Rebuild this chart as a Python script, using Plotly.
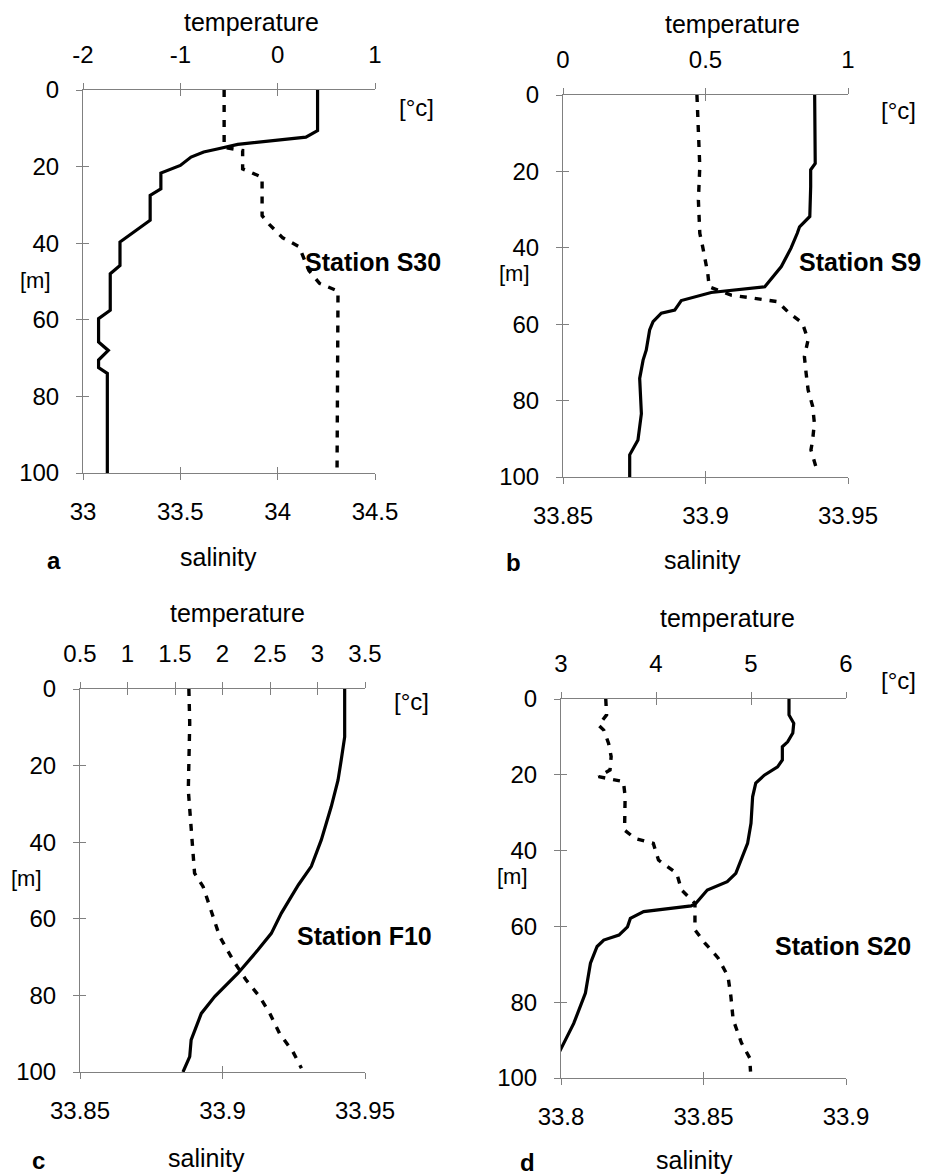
import plotly.graph_objects as go

W, H = 926, 1176

# ---------------- data (depth in m, temperature in °C, salinity) ----------------
a_temp_depth = [0, 10.6, 12.3, 13.0, 14.2, 15.4, 16.2, 17.5, 19.7, 21.7, 25.8, 27.5, 34.0, 39.7, 45.8, 48.0,
                57.5, 59.7, 65.8, 68.0, 70.5, 72.5, 74.0, 100]
a_temp = [0.41, 0.41, 0.29, 0.04, -0.41, -0.62, -0.76, -0.89, -1.0, -1.2, -1.2, -1.31, -1.31, -1.62, -1.62, -1.72,
          -1.72, -1.84, -1.84, -1.74, -1.84, -1.84, -1.75, -1.75]
a_sal_depth = [0, 15, 15.8, 20.6, 21.5, 22.8, 32.8, 35.1, 38.6, 40.9, 47.1, 50.5, 52.5, 100]
a_sal = [33.725, 33.725, 33.82, 33.82, 33.862, 33.92, 33.92, 33.957, 34.026, 34.11, 34.16, 34.215, 34.31, 34.305]

b_temp_depth = [0, 10, 17.9, 19.6, 24, 31.8, 34.5, 36.2, 40.1, 44.9, 50.2, 51.7, 53.8, 56.3, 57.1, 59.3, 61.5,
                66.8, 69.4, 74.2, 83.4, 90.3, 94.2, 100]
b_temp = [0.883, 0.883, 0.885, 0.869, 0.869, 0.866, 0.83, 0.822, 0.80, 0.766, 0.708, 0.52, 0.415, 0.392, 0.345,
          0.316, 0.304, 0.292, 0.281, 0.269, 0.275, 0.263, 0.234, 0.234]
b_sal_depth = [0, 10, 18.8, 27.5, 36.2, 39.7, 46.7, 50.2, 52.4, 53.2, 54.1, 57.1, 59.7, 64.1, 68.5, 72.8, 77.2,
               81.5, 85.9, 90.3, 92.9, 98.2]
b_sal = [33.897, 33.8975, 33.898, 33.8975, 33.898, 33.899, 33.9008, 33.9013, 33.909, 33.917, 33.9253, 33.9294,
         33.934, 33.936, 33.9347, 33.9353, 33.936, 33.9376, 33.9382, 33.9376, 33.937, 33.9391]

c_temp_depth = [0, 12.5, 18.5, 23.8, 30.7, 39.4, 46.3, 51.1, 54.2, 58.5, 63.8, 68.1, 74.2, 80.3, 84.7, 91.6, 96, 100]
c_temp = [3.286, 3.286, 3.25, 3.216, 3.145, 3.04, 2.935, 2.80, 2.724, 2.62, 2.514, 2.374, 2.163, 1.918, 1.777,
          1.67, 1.655, 1.584]
c_sal_depth = [0, 8.9, 26.4, 35.1, 42, 48.1, 51.6, 56.8, 64.6, 70.8, 76, 80.3, 84.7, 89.9, 94.7, 99]
c_sal = [33.8882, 33.8885, 33.888, 33.889, 33.8896, 33.8902, 33.8932, 33.8955, 33.899, 33.9037, 33.9083, 33.913,
         33.9166, 33.92, 33.9247, 33.9277]

d_temp_depth = [0, 4.2, 6.4, 9, 11.3, 12.6, 16.1, 17.9, 20.1, 22.2, 25.8, 32.8, 38.1, 41.6, 46, 48.2, 50.4, 53.9,
                54.6, 56.1, 57.9, 60.1, 62.3, 63.6, 65.3, 69.7, 77.6, 85.6, 97]
d_temp = [5.40, 5.40, 5.45, 5.44, 5.386, 5.33, 5.33, 5.28, 5.14, 5.05, 5.017, 5.0, 4.964, 4.91, 4.84, 4.75, 4.54,
          4.42, 4.37, 3.87, 3.73, 3.70, 3.61, 3.45, 3.38, 3.31, 3.257, 3.134, 2.905]
d_sal_depth = [0, 4.2, 6.9, 8.2, 11.7, 15.2, 18.7, 20.5, 21.8, 25.7, 34.6, 36.8, 38.1, 42.5, 46, 50.4, 53.9, 60.9,
               64.4, 68.3, 73.2, 78.4, 84.6, 90.7, 94.7, 98.3]
d_sal = [33.8157, 33.816, 33.8132, 33.815, 33.8167, 33.8176, 33.8172, 33.8132, 33.8219, 33.8225, 33.8223, 33.826,
         33.8324, 33.8342, 33.8406, 33.8423, 33.847, 33.847, 33.8505, 33.8551, 33.8586, 33.8596, 33.8604, 33.8633,
         33.8662, 33.8665]

depth_ticks = [0, 20, 40, 60, 80, 100]
temp_ticks = {
    "a": [-2, -1, 0, 1],
    "b": [0, 0.5, 1],
    "c": [0.5, 1, 1.5, 2, 2.5, 3, 3.5],
    "d": [3, 4, 5, 6],
}
sal_ticks = {
    "a": [33, 33.5, 34, 34.5],
    "b": [33.85, 33.9, 33.95],
    "c": [33.85, 33.9, 33.95],
    "d": [33.8, 33.85, 33.9],
}
stations = {"a": "Station S30", "b": "Station S9", "c": "Station F10", "d": "Station S20"}
series = {
    "a": (a_temp_depth, a_temp, a_sal_depth, a_sal),
    "b": (b_temp_depth, b_temp, b_sal_depth, b_sal),
    "c": (c_temp_depth, c_temp, c_sal_depth, c_sal),
    "d": (d_temp_depth, d_temp, d_sal_depth, d_sal),
}

# ---------------- layout geometry (pixels) ----------------
panels = {
    # plot box: left, right, top, bottom
    "a": dict(box=(83, 375, 90, 473), temp_title=(251, 22), sal_title=(218, 557), letter=(54, 560),
              degc=(416, 108), meter=(35, 281), station=(303, 262)),
    "b": dict(box=(563, 848, 95, 477), temp_title=(732, 24), sal_title=(702, 560), letter=(513, 563),
              degc=(898, 111), meter=(514, 273), station=(797, 262)),
    "c": dict(box=(80, 365, 689, 1072), temp_title=(237, 613), sal_title=(206, 1158), letter=(38, 1160),
              degc=(411, 701), meter=(26, 878), station=(295, 936)),
    "d": dict(box=(561, 846, 699, 1078), temp_title=(727, 618), sal_title=(694, 1160), letter=(527, 1162),
              degc=(898, 680), meter=(512, 876), station=(773, 946)),
}

FONT = "Liberation Sans, Arial, sans-serif"
AX_COL = "#808080"
TICK_FS = 24


def px2x(p):
    return p / W


def px2y(p):
    return 1 - p / H


fig = go.Figure()
layout = dict(
    template="none",
    width=W, height=H, autosize=False,
    margin=dict(l=0, r=0, t=0, b=0, pad=0),
    paper_bgcolor="white", plot_bgcolor="white",
    showlegend=False,
    font=dict(family=FONT, color="black"),
)
annotations = []


def fmt(v):
    return "%g" % v


for i, key in enumerate(["a", "b", "c", "d"]):
    p = panels[key]
    l, r, t, b = p["box"]
    xdom = [px2x(l), px2x(r)]
    ydom = [px2y(b), px2y(t)]
    xs, xt, xsi, xti = 4 * i + 1, 4 * i + 2, 4 * i + 3, 4 * i + 4
    ym, yi = 2 * i + 1, 2 * i + 2
    ax = lambda n: "xaxis" if n == 1 else "xaxis%d" % n
    ay = lambda n: "yaxis" if n == 1 else "yaxis%d" % n
    xid = lambda n: "x" if n == 1 else "x%d" % n
    yid = lambda n: "y" if n == 1 else "y%d" % n

    st, sv = sal_ticks[key], temp_ticks[key]
    common = dict(showgrid=False, zeroline=False, showline=True, linecolor=AX_COL, linewidth=1,
                  tickcolor=AX_COL, tickwidth=1, ticklen=6, automargin=False,
                  tickfont=dict(size=TICK_FS, family=FONT, color="black"))
    # salinity (bottom)
    layout[ax(xs)] = dict(common, domain=xdom, anchor=yid(ym), side="bottom",
                          range=[st[0], st[-1]], tickvals=st, ticktext=[fmt(v) for v in st],
                          ticks="outside", ticklabelstandoff=11)
    # temperature (top)
    layout[ax(xt)] = dict(common, overlaying=xid(xs), anchor=yid(ym), side="top",
                          range=[sv[0], sv[-1]], tickvals=sv, ticktext=[fmt(v) for v in sv],
                          ticks="outside", ticklabelstandoff=10)
    # inside tick halves (cross ticks)
    layout[ax(xsi)] = dict(common, overlaying=xid(xs), anchor=yid(ym), side="bottom",
                           range=[st[0], st[-1]], tickvals=st, ticks="inside", showticklabels=False)
    layout[ax(xti)] = dict(common, overlaying=xid(xs), anchor=yid(ym), side="top",
                           range=[sv[0], sv[-1]], tickvals=sv, ticks="inside", showticklabels=False)
    # depth
    layout[ay(ym)] = dict(common, domain=ydom, anchor=xid(xs), side="left",
                          range=[100, 0], tickvals=depth_ticks, ticks="outside", ticklabelstandoff=12)
    layout[ay(yi)] = dict(common, overlaying=yid(ym), anchor=xid(xs), side="left",
                          range=[100, 0], tickvals=depth_ticks, ticks="inside", showticklabels=False)

    td, tv, sd, svv = series[key]
    fig.add_trace(go.Scatter(x=tv, y=td, xaxis=xid(xt), yaxis=yid(ym), mode="lines",
                             line=dict(color="black", width=3.2), name="temperature", hoverinfo="skip"))
    fig.add_trace(go.Scatter(x=svv, y=sd, xaxis=xid(xs), yaxis=yid(ym), mode="lines",
                             line=dict(color="black", width=3.4, dash="7px,8px"), name="salinity",
                             hoverinfo="skip"))
    # empty traces so that tick-only overlay axes are drawn
    fig.add_trace(go.Scatter(x=[None], y=[None], xaxis=xid(xsi), yaxis=yid(yi), mode="lines",
                             hoverinfo="skip"))
    fig.add_trace(go.Scatter(x=[None], y=[None], xaxis=xid(xti), yaxis=yid(yi), mode="lines",
                             hoverinfo="skip"))

    def ann(text, pos, size, bold=False, xanchor="center"):
        annotations.append(dict(
            text=("<b>%s</b>" % text) if bold else text,
            x=px2x(pos[0]), y=px2y(pos[1]), xref="paper", yref="paper",
            xanchor=xanchor, yanchor="middle", showarrow=False,
            font=dict(size=size, family=FONT, color="black")))

    ann("temperature", p["temp_title"], 25)
    ann("salinity", p["sal_title"], 25)
    ann(key, p["letter"], 24, bold=True)
    ann("[°c]", p["degc"], 24)
    ann("[m]", p["meter"], 22)
    ann(stations[key], p["station"], 25, bold=True, xanchor="left")

layout["annotations"] = annotations
fig.update_layout(**layout)
fig.write_html("out.html")
